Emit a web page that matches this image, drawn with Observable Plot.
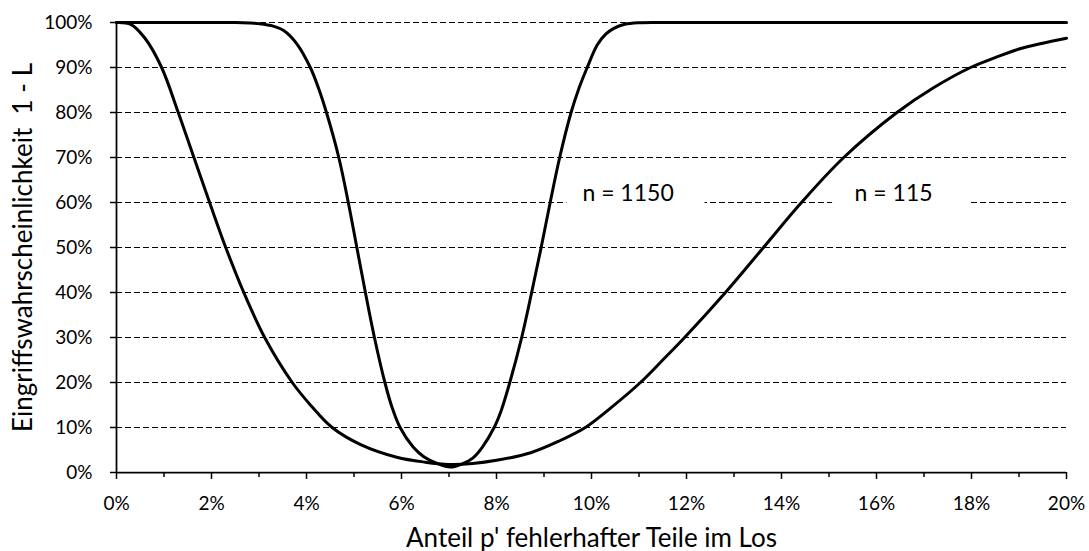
<!DOCTYPE html>
<html><head><meta charset="utf-8">
<script src="https://cdn.jsdelivr.net/npm/d3@7"></script>
<script src="https://cdn.jsdelivr.net/npm/@observablehq/plot@0.6"></script>
<style>html,body{margin:0;padding:0;background:#fff}</style>
</head><body><div id="chart"></div>
<script>
// n = 115 curve (p in %, 1-L in %)
const p115 = [0, 0.3, 0.6, 0.95, 1.3, 1.63, 1.96, 2.3, 2.68, 3.12, 3.7, 4.1, 4.54, 5.14, 5.9, 6.5, 7.0, 7.5, 8.0, 8.72, 9.3, 9.87, 10.4, 11.03, 11.5, 11.96, 12.82, 13.62, 14.42, 15.31, 16.43, 17.2, 17.98, 18.5, 19.0, 19.5, 20.0];
const v115 = [100, 99.6, 96.5, 90, 80, 70, 60, 50, 40, 30, 20, 14.8, 10, 6.2, 3.4, 2.3, 1.8, 2.0, 2.7, 4.4, 6.9, 10, 14.3, 20, 25, 30, 40, 50, 60, 70, 80, 85.5, 90, 92.2, 94.1, 95.4, 96.5];
// n = 1150 curve
const p1150 = [0, 1, 2, 2.5, 2.8, 3.0, 3.3, 3.52, 3.8, 4.08, 4.25, 4.42, 4.68, 4.88, 5.06, 5.24, 5.43, 5.65, 5.8, 5.97, 6.25, 6.47, 6.75, 7.03, 7.3, 7.5, 7.7, 7.95, 8.1, 8.28, 8.53, 8.74, 8.94, 9.13, 9.33, 9.57, 9.74, 9.91, 10.12, 10.3, 10.47, 10.7, 11.0, 11.5, 12, 14, 16, 18, 20];
const v1150 = [100, 100, 100, 100, 99.9, 99.75, 99.2, 98.2, 95.2, 90, 85.5, 80, 70, 60, 50, 40, 30, 20, 14.5, 10, 5.6, 3.5, 2.0, 1.2, 2.0, 3.2, 5.6, 10, 13.8, 20, 30, 40, 50, 60, 70, 80, 85.5, 90, 95, 97.4, 98.7, 99.6, 99.95, 100, 100, 100, 100, 100, 100];

const xTicks = [0, 2, 4, 6, 8, 10, 12, 14, 16, 18, 20];
const xMinorTicks = [1, 3, 5, 7, 9, 11, 13, 15, 17, 19];
const yTicks = [0, 10, 20, 30, 40, 50, 60, 70, 80, 90, 100];

const labelText = ["n = 1150", "n = 115"];
const labelP = [10.77, 16.36];
const labelV = [60, 60];

const xTitle = "Anteil p' fehlerhafter Teile im Los";
const yTitle = "Eingriffswahrscheinlichkeit\u00a0 1 - L";

const rows = [
  ...p115.map((p, i) => ({series: "n = 115", p, v: v115[i]})),
  ...p1150.map((p, i) => ({series: "n = 1150", p, v: v1150[i]}))
];
const labels = labelText.map((t, i) => ({t, p: labelP[i], v: labelV[i]}));

const chart = Plot.plot({
  width: 1089, height: 551,
  marginLeft: 116, marginRight: 23, marginTop: 22, marginBottom: 79,
  style: {fontFamily: "Lato, 'Open Sans', sans-serif", fontSize: "19px", color: "#000", background: "#fff", overflow: "visible"},
  x: {domain: [0, 20]},
  y: {domain: [0, 100]},
  marks: [
    Plot.ruleY(yTicks.filter(d => d > 0), {stroke: "#000", strokeWidth: 1.2, strokeDasharray: "6,3"}),
    Plot.rect(labels, {x1: "p", x2: "p", y1: "v", y2: "v", fill: "#fff", insetLeft: -61, insetRight: -77, insetTop: -10, insetBottom: -10}),
    Plot.text(labels, {x: "p", y: "v", text: "t", fontSize: 23, lineAnchor: "middle", dy: -9, fill: "#000"}),
    Plot.ruleX([0], {stroke: "#000", strokeWidth: 1.75}),
    Plot.ruleY([0], {stroke: "#000", strokeWidth: 1.75}),
    Plot.axisX({ticks: xTicks, tickFormat: d => d + "%", tickSize: 7, tickPadding: 17, strokeWidth: 1.5, label: null, fontSize: 19}),
    Plot.axisX({ticks: xMinorTicks, tickFormat: () => "", tickSize: 5, strokeWidth: 1.5, label: null}),
    Plot.axisY({ticks: yTicks, tickFormat: d => d + "%", tickSize: 6, tickPadding: 18, strokeWidth: 1.5, label: null, fontSize: 19}),
    Plot.line(rows, {x: "p", y: "v", z: "series", stroke: "#000", strokeWidth: 3, curve: "catmull-rom"}),
    Plot.text([xTitle], {frameAnchor: "bottom", dy: 66, fontSize: 26, lineAnchor: "middle", fill: "#000"}),
    Plot.text([yTitle], {frameAnchor: "left", dx: -93, rotate: -90, fontSize: 26, textAnchor: "middle", lineAnchor: "middle", fill: "#000"})
  ]
});
document.getElementById("chart").appendChild(chart);
</script>
</body></html>
